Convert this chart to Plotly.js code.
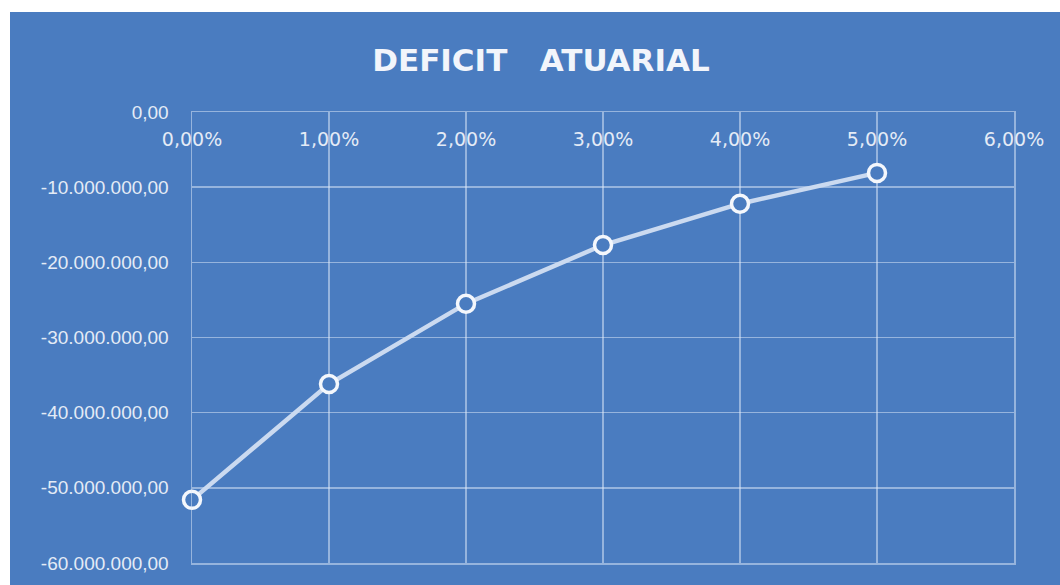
<!DOCTYPE html>
<html>
<head>
<meta charset="utf-8">
<script src="https://cdn.plot.ly/plotly-3.0.1.min.js"></script>
<style>
html,body{margin:0;padding:0;background:#ffffff;width:1060px;height:585px;overflow:hidden;}
#chart{position:absolute;left:10px;top:12px;width:1050px;height:573px;}
</style>
</head>
<body>
<div id="chart"></div>
<script>
const rates = [0.00, 0.01, 0.02, 0.03, 0.04, 0.05];
const deficit = [-51600000, -36200000, -25500000, -17700000, -12200000, -8100000];
const xTicks = [0, 0.01, 0.02, 0.03, 0.04, 0.05, 0.06];
const yTicks = [0, -10000000, -20000000, -30000000, -40000000, -50000000, -60000000];

function fmtBR(v) {
  const parts = Math.abs(v).toFixed(2).split('.');
  const intPart = parts[0].replace(/\B(?=(\d{3})+(?!\d))/g, '.');
  return (v < 0 ? '-' : '') + intPart + ',' + parts[1];
}
function fmtPct(v) {
  return (v * 100).toFixed(2).replace('.', ',') + '%';
}

const bg = '#4a7cc0';
const txt = '#e4ebf6';
const grid = 'rgba(225,235,250,0.5)';

const trace = {
  x: rates, y: deficit, type: 'scatter', mode: 'lines+markers',
  line: {color: '#cbdaf0', width: 4.5},
  marker: {symbol: 'circle', size: 17, color: bg, line: {color: '#f4f7fc', width: 3.5}},
  cliponaxis: false,
  hoverinfo: 'x+y'
};
// carrier trace so the top label axis is drawn (no visible marks)
const labelCarrier = {
  x: rates, y: deficit, type: 'scatter', mode: 'none', xaxis: 'x2', yaxis: 'y',
  hoverinfo: 'skip', showlegend: false
};

const layout = {
  width: 1050, height: 573,
  paper_bgcolor: bg, plot_bgcolor: bg,
  margin: {l: 182, r: 46, t: 100, b: 22},
  title: {text: 'DEFICIT&nbsp;&nbsp;&nbsp;ATUARIAL', font: {family: 'DejaVu Sans, sans-serif', size: 31, color: '#f2f5fb', weight: 'bold'},
          x: 531/1050, xanchor: 'center', y: 1 - 48/573, yref: 'container', yanchor: 'middle'},
  showlegend: false,
  xaxis: {
    range: [0, 0.06], tickvals: xTicks, showticklabels: false, ticks: '',
    showgrid: true, gridcolor: grid, gridwidth: 1.5,
    showline: true, linecolor: grid, linewidth: 1.5, mirror: true,
    zeroline: false
  },
  xaxis2: {
    overlaying: 'x', matches: 'x', anchor: 'free', position: 0.917, side: 'top',
    range: [0, 0.06], tickvals: xTicks, ticktext: xTicks.map(fmtPct),
    ticks: '', showgrid: false, showline: false, zeroline: false,
    tickfont: {family: 'DejaVu Sans, sans-serif', size: 19, color: txt}
  },
  yaxis: {
    range: [-60000000, 0], tickvals: yTicks, ticktext: yTicks.map(fmtBR),
    ticks: 'outside', ticklen: 18, tickcolor: 'rgba(0,0,0,0)',
    showgrid: true, gridcolor: grid, gridwidth: 1.5,
    showline: true, linecolor: grid, linewidth: 1.5, mirror: true,
    zeroline: false,
    tickfont: {family: 'Liberation Sans, sans-serif', size: 19, color: txt}
  }
};

Plotly.newPlot('chart', [labelCarrier, trace], layout, {displayModeBar: false, staticPlot: true});
</script>
</body>
</html>
